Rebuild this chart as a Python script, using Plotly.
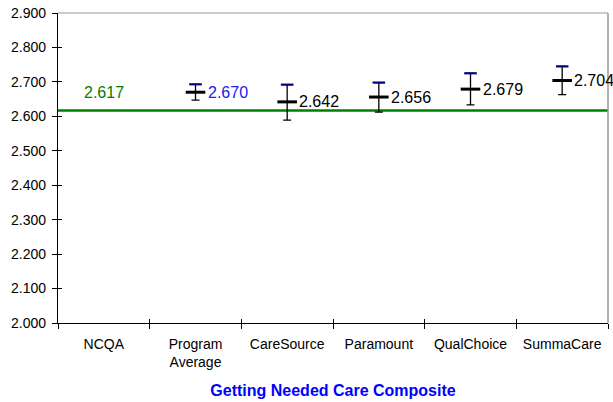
import plotly.graph_objects as go

categories = ["NCQA", "Program<br>Average", "CareSource", "Paramount", "QualChoice", "SummaCare"]
ncqa_value = 2.617
plans = categories[1:]
means = [2.670, 2.642, 2.656, 2.679, 2.704]
upper = [2.693, 2.692, 2.698, 2.725, 2.745]
lower = [2.647, 2.589, 2.612, 2.633, 2.663]
label_colors = ["#2020F0", "#000000", "#000000", "#000000", "#000000"]
y_ticks = [2.0, 2.1, 2.2, 2.3, 2.4, 2.5, 2.6, 2.7, 2.8, 2.9]

FONT = "Liberation Sans, Arial, sans-serif"

fig = go.Figure()

# NCQA benchmark line
fig.add_hline(y=ncqa_value, line=dict(color="#008000", width=2.5), layer="below")

# error bars + mean markers
fig.add_trace(go.Scatter(
    x=plans, y=means, mode="markers",
    marker=dict(symbol="line-ew", size=14, line=dict(color="black", width=3)),
    error_y=dict(type="data", symmetric=False,
                 array=[u - m for u, m in zip(upper, means)],
                 arrayminus=[m - l for m, l in zip(means, lower)],
                 color="black", thickness=1.3, width=4),
    showlegend=False, hoverinfo="skip"))

# navy upper caps
fig.add_trace(go.Scatter(
    x=plans, y=upper, mode="markers",
    marker=dict(symbol="line-ew", size=9, line=dict(color="#000080", width=2.2)),
    showlegend=False, hoverinfo="skip"))

# invisible trace for overlay axes (crossing ticks)
fig.add_trace(go.Scatter(x=categories, y=[None] * len(categories), xaxis="x2", yaxis="y2",
                         mode="markers", showlegend=False, hoverinfo="skip"))

# value labels
for p, m, c in zip(plans, means, label_colors):
    fig.add_annotation(x=p, y=m, text=f"{m:.3f}", showarrow=False, xanchor="left",
                       yanchor="middle", xshift=10, font=dict(family=FONT, size=16, color=c))
fig.add_annotation(x=categories[0], y=ncqa_value, text=f"{ncqa_value:.3f}", showarrow=False,
                   xanchor="center", yanchor="middle", yshift=18,
                   font=dict(family=FONT, size=16, color="#008000"))

# top/right frame in grey
fig.add_shape(type="line", xref="x domain", yref="y domain", x0=0, x1=1, y0=1, y1=1,
              line=dict(color="#999999", width=1))
fig.add_shape(type="line", xref="x domain", yref="y domain", x0=1, x1=1, y0=0, y1=1,
              line=dict(color="#999999", width=1.5))

axis_common = dict(showgrid=False, zeroline=False)
fig.update_layout(
    width=613, height=402,
    margin=dict(l=58, r=5, t=10, b=79),
    paper_bgcolor="white", plot_bgcolor="white",
    font=dict(family=FONT, size=14, color="black"),
    xaxis=dict(type="category", categoryorder="array", categoryarray=categories,
               range=[-0.5, 5.5], tickson="boundaries", ticks="outside", ticklen=5,
               tickcolor="black", showline=True, linecolor="black", linewidth=1.3,
               ticklabelstandoff=8,
               tickfont=dict(family=FONT, size=14, color="black"),
               title=dict(text="<b>Getting Needed Care Composite</b>", standoff=15,
                          font=dict(family=FONT, size=16, color="#0000FF")),
               **axis_common),
    yaxis=dict(range=[2.0, 2.9], tickvals=y_ticks, tickformat=".3f", ticks="outside",
               ticklen=5, tickcolor="black", showline=True, linecolor="black", linewidth=1.3,
               ticklabelstandoff=3,
               tickfont=dict(family=FONT, size=14, color="black"), **axis_common),
    xaxis2=dict(type="category", categoryorder="array", categoryarray=categories,
                range=[-0.5, 5.5], tickson="boundaries", ticks="inside", ticklen=4,
                tickcolor="black", overlaying="x", anchor="y2", showticklabels=False,
                showline=False, **axis_common),
    yaxis2=dict(range=[2.0, 2.9], tickvals=y_ticks, ticks="inside", ticklen=4,
                tickcolor="black", overlaying="y", anchor="x2", side="left",
                showticklabels=False, showline=False, **axis_common),
)

fig.write_html("out.html", config={"displayModeBar": False},
               post_script="document.body.style.margin='0';")
